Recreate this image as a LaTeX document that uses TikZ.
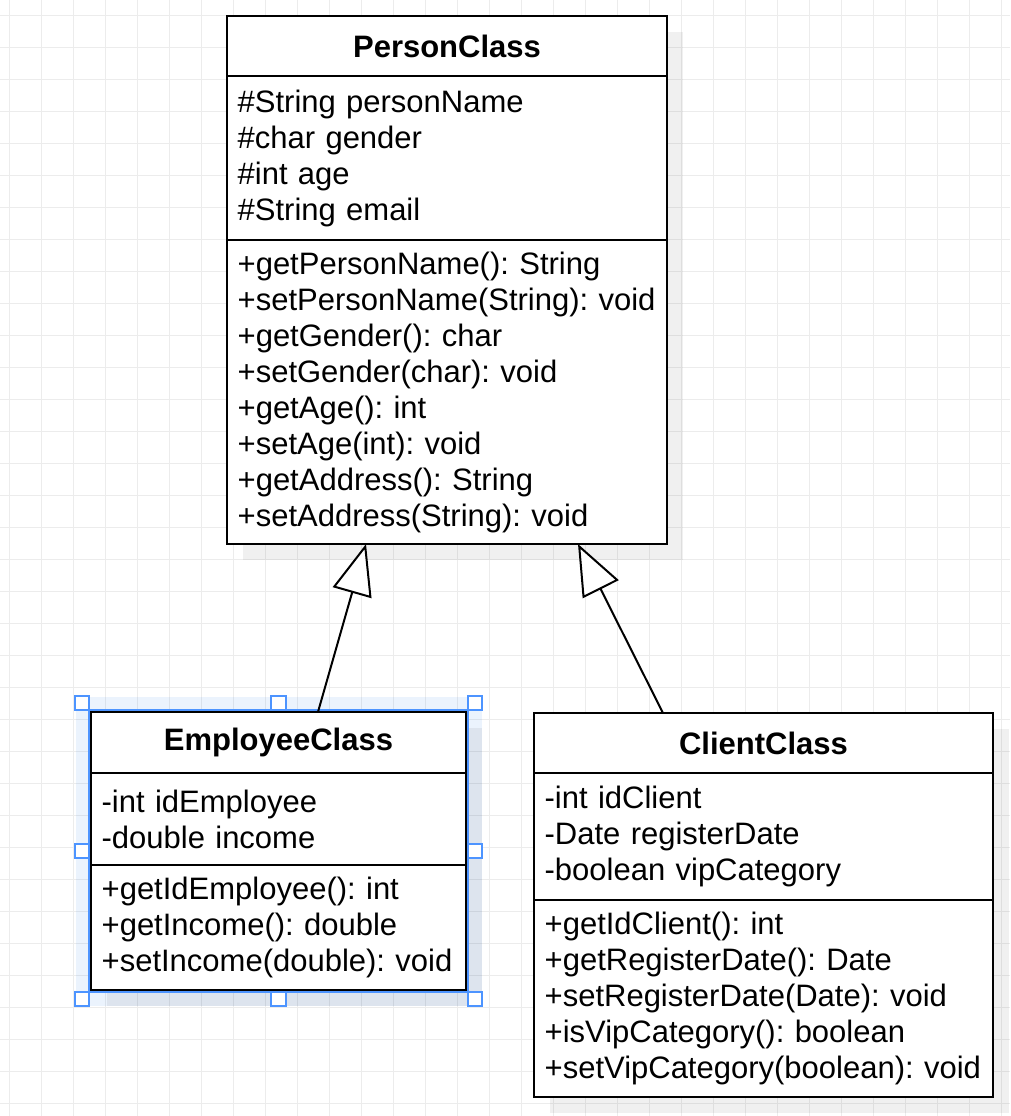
\documentclass[tikz,border=0pt]{standalone}
\usepackage{fontspec}
\setmainfont{Liberation Sans}
\frenchspacing
\usepackage{tikz}
\usetikzlibrary{shapes,arrows,arrows.meta,positioning,fit,backgrounds}
\definecolor{selblue}{RGB}{77, 148, 255}
\definecolor{gridgray}{RGB}{236, 236, 236}
\tikzstyle{classhead} = [rectangle, draw=black, line width=1.5pt, fill=white, outer sep=0pt, inner sep=0pt, text=black, font=\bfseries\fontsize{23.25}{27}\selectfont, align=center]
\tikzstyle{classpart} = [rectangle, draw=black, line width=1.5pt, fill=white, outer sep=0pt, inner xsep=8pt, inner ysep=3pt, text=black, font=\fontsize{23.25}{27}\selectfont, align=left]
\tikzstyle{inherit} = [draw, line width=1.5pt, -{Triangle[length=38pt, width=30pt, fill=white]}]
\tikzstyle{handle} = [rectangle, draw=selblue, line width=1.6pt, fill=white, minimum size=11pt, inner sep=0pt]
\tikzstyle{shade} = [fill=black, fill opacity=0.06]
\tikzstyle{glow} = [fill={rgb,255:red,0;green,100;blue,230}, fill opacity=0.08]

\begin{document}
\begin{tikzpicture}[x=0.75pt, y=-0.75pt]
\useasboundingbox (0,0) rectangle (1010,1116);

% classes =============================
\node[classhead, minimum width=330pt, minimum height=45pt] (pHead) at (447,46) {PersonClass};
\node[classpart, text width=314pt, minimum height=123pt, below=0pt of pHead] (pAttr) {\#String personName\\\#char gender\\\#int age\\\#String email};
\node[classpart, text width=314pt, minimum height=228pt, below=0pt of pAttr] (pMeth) {+getPersonName(): String\\+setPersonName(String): void\\+getGender(): char\\+setGender(char): void\\+getAge(): int\\+setAge(int): void\\+getAddress(): String\\+setAddress(String): void};

\node[classhead, minimum width=281.25pt, minimum height=45.75pt] (eHead) at (278.5,742.5) {EmployeeClass};
\node[classpart, text width=265.25pt, minimum height=69pt, below=0pt of eHead] (eAttr) {-int idEmployee\\-double income};
\node[classpart, text width=265.25pt, minimum height=93.75pt, below=0pt of eAttr] (eMeth) {+getIdEmployee(): int\\+getIncome(): double\\+setIncome(double): void};

\node[classhead, minimum width=344.25pt, minimum height=45pt] (cHead) at (763.5,743) {ClientClass};
\node[classpart, text width=328.25pt, minimum height=95.25pt, below=0pt of cHead] (cAttr) {-int idClient\\-Date registerDate\\-boolean vipCategory};
\node[classpart, text width=328.25pt, minimum height=147.75pt, below=0pt of cAttr] (cMeth) {+getIdClient(): int\\+getRegisterDate(): Date\\+setRegisterDate(Date): void\\+isVipCategory(): boolean\\+setVipCategory(boolean): void};

% canvas: grid, selection glow, shadows
\begin{scope}[on background layer]
\foreach \gx in {9.3,41.3,...,1010}
  \draw[gridgray, line width=0.75pt] (\gx,0) -- (\gx,1116);
\foreach \gy in {15.3,47.3,...,1116}
  \draw[gridgray, line width=0.75pt] (0,\gy) -- (1010,\gy);
\fill[glow] ([xshift=-11.25pt,yshift=11.25pt]eHead.north west) rectangle ([xshift=12pt,yshift=-12pt]eMeth.south east);
\fill[shade] ([xshift=12pt,yshift=-12pt]pHead.north west) rectangle ([xshift=12pt,yshift=-12pt]pMeth.south east);
\fill[shade] ([xshift=12pt,yshift=-12pt]eHead.north west) rectangle ([xshift=12pt,yshift=-12pt]eMeth.south east);
\fill[shade] ([xshift=12pt,yshift=-12pt]cHead.north west) rectangle ([xshift=12pt,yshift=-12pt]cMeth.south east);
\end{scope}

% selection
\draw[selblue, line width=1.5pt] ([xshift=-1.3pt,yshift=1.3pt]eHead.north west) rectangle ([xshift=1.3pt,yshift=-1.3pt]eMeth.south east);
\node[fit=(eHead)(eMeth), inner sep=6.75pt, outer sep=0pt] (sel) {};
\foreach \a/\n in {north west/nw, north/n, north east/ne, west/w, east/e, south west/sw, south/s, south east/se}
  \node[handle] (hdl\n) at (sel.\a) {};

% edges
\path[inherit] ([xshift=29.6pt]eHead.north) -- ([xshift=-60.75pt]pMeth.south);
\path[inherit] ([xshift=-75.4pt]cHead.north) -- ([xshift=98.25pt]pMeth.south);

\end{tikzpicture}
\end{document}
